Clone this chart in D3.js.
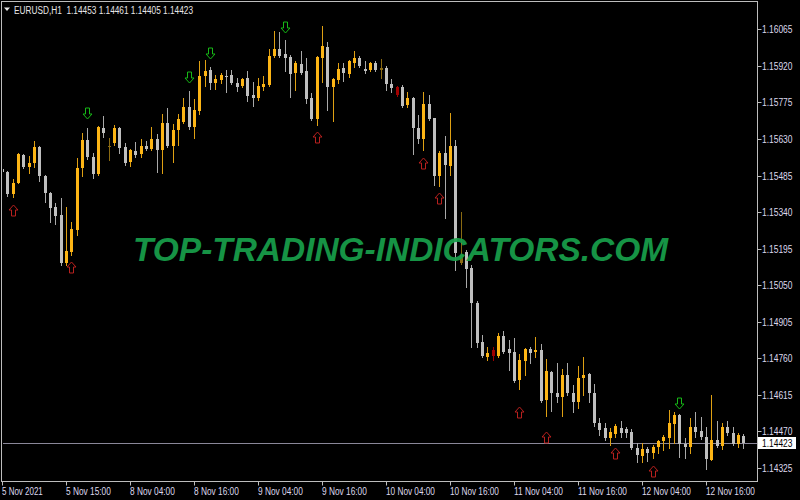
<!DOCTYPE html>
<html>
<head>
<meta charset="utf-8">
<script src="https://cdn.jsdelivr.net/npm/d3@7/dist/d3.min.js"></script>
<style>
  html, body { margin: 0; padding: 0; background: #000; }
  svg { display: block; }
  text { font-family: "Liberation Sans", "DejaVu Sans", sans-serif; }
</style>
</head>
<body>
<script>
// EURUSD H1, 5 Nov 03:00 .. 12 Nov 23:00 (bar index 0..139)
const symbol = 'EURUSD,H1';

const opens = [
  1.15511, 1.15499, 1.15412, 1.15457, 1.15566, 1.15519, 1.15536, 1.15599, 1.15483, 1.15417,
  1.15361, 1.15328, 1.15137, 1.15181, 1.15269, 1.15514, 1.15626, 1.15560, 1.15491, 1.15672,
  1.15597, 1.15613, 1.15672, 1.15597, 1.15540, 1.15583, 1.15570, 1.15602, 1.15589, 1.15629,
  1.15586, 1.15692, 1.15602, 1.15666, 1.15699, 1.15756, 1.15679, 1.15742, 1.15880, 1.15904,
  1.15851, 1.15864, 1.15881, 1.15884, 1.15853, 1.15840, 1.15871, 1.15804, 1.15791, 1.15837,
  1.15844, 1.15960, 1.15986, 1.15967, 1.15956, 1.15890, 1.15926, 1.15900, 1.15794, 1.15709,
  1.15950, 1.15996, 1.15835, 1.15864, 1.15910, 1.15888, 1.15933, 1.15952, 1.15907, 1.15904,
  1.15933, 1.15904, 1.15910, 1.15848, 1.15836, 1.15835, 1.15765, 1.15791, 1.15672, 1.15629,
  1.15768, 1.15712, 1.15483, 1.15576, 1.15523, 1.15602, 1.15138, 1.15183, 1.15117, 1.14978,
  1.14826, 1.14767, 1.14793, 1.14769, 1.14849, 1.14796, 1.14787, 1.14674, 1.14749, 1.14796,
  1.14787, 1.14793, 1.14595, 1.14707, 1.14621, 1.14608, 1.14694, 1.14621, 1.14588, 1.14681,
  1.14698, 1.14624, 1.14505, 1.14483, 1.14443, 1.14460, 1.14485, 1.14480, 1.14469, 1.14403,
  1.14374, 1.14399, 1.14386, 1.14407, 1.14432, 1.14443, 1.14500, 1.14535, 1.14420, 1.14410,
  1.14489, 1.14472, 1.14449, 1.14357, 1.14436, 1.14414, 1.14487, 1.14463, 1.14419, 1.14453
];
const highs = [
  1.15527, 1.15503, 1.15471, 1.15574, 1.15570, 1.15562, 1.15623, 1.15602, 1.15487, 1.15420,
  1.15377, 1.15395, 1.15359, 1.15302, 1.15553, 1.15655, 1.15672, 1.15573, 1.15681, 1.15721,
  1.15633, 1.15685, 1.15678, 1.15615, 1.15590, 1.15617, 1.15629, 1.15623, 1.15679, 1.15650,
  1.15729, 1.15752, 1.15689, 1.15729, 1.15791, 1.15821, 1.15787, 1.15940, 1.15943, 1.15914,
  1.15884, 1.15890, 1.15904, 1.15904, 1.15871, 1.15871, 1.15901, 1.15857, 1.15871, 1.15880,
  1.15986, 1.16058, 1.16054, 1.16023, 1.15963, 1.15940, 1.15979, 1.15950, 1.15811, 1.15959,
  1.16079, 1.16013, 1.15871, 1.15930, 1.15930, 1.15943, 1.15979, 1.15960, 1.15940, 1.15937,
  1.15940, 1.15946, 1.15919, 1.15867, 1.15840, 1.15844, 1.15817, 1.15795, 1.15725, 1.15817,
  1.15804, 1.15713, 1.15583, 1.15642, 1.15734, 1.15626, 1.15342, 1.15190, 1.15130, 1.14987,
  1.14853, 1.14804, 1.14806, 1.14862, 1.14868, 1.14833, 1.14842, 1.14777, 1.14800, 1.14804,
  1.14843, 1.14816, 1.14756, 1.14711, 1.14740, 1.14718, 1.14743, 1.14654, 1.14731, 1.14767,
  1.14703, 1.14658, 1.14522, 1.14505, 1.14483, 1.14500, 1.14513, 1.14489, 1.14479, 1.14423,
  1.14423, 1.14409, 1.14416, 1.14436, 1.14456, 1.14555, 1.14548, 1.14539, 1.14443, 1.14522,
  1.14548, 1.14529, 1.14487, 1.14615, 1.14513, 1.14502, 1.14513, 1.14489, 1.14463, 1.14461
];
const lows = [
  1.15483, 1.15404, 1.15400, 1.15454, 1.15515, 1.15495, 1.15520, 1.15464, 1.15381, 1.15302,
  1.15293, 1.15130, 1.15130, 1.15170, 1.15249, 1.15483, 1.15549, 1.15474, 1.15487, 1.15639,
  1.15547, 1.15606, 1.15573, 1.15527, 1.15523, 1.15560, 1.15557, 1.15586, 1.15586, 1.15500,
  1.15494, 1.15599, 1.15540, 1.15606, 1.15695, 1.15668, 1.15633, 1.15729, 1.15840, 1.15827,
  1.15827, 1.15853, 1.15817, 1.15848, 1.15821, 1.15837, 1.15782, 1.15761, 1.15785, 1.15824,
  1.15840, 1.15956, 1.15955, 1.15900, 1.15795, 1.15824, 1.15888, 1.15774, 1.15705, 1.15685,
  1.15857, 1.15745, 1.15702, 1.15853, 1.15861, 1.15877, 1.15914, 1.15917, 1.15893, 1.15900,
  1.15900, 1.15871, 1.15824, 1.15817, 1.15802, 1.15758, 1.15758, 1.15570, 1.15613, 1.15586,
  1.15705, 1.15448, 1.15443, 1.15315, 1.15487, 1.15110, 1.15134, 1.15044, 1.14806, 1.14805,
  1.14767, 1.14753, 1.14753, 1.14764, 1.14783, 1.14714, 1.14667, 1.14637, 1.14694, 1.14743,
  1.14764, 1.14588, 1.14532, 1.14552, 1.14588, 1.14532, 1.14615, 1.14548, 1.14562, 1.14615,
  1.14588, 1.14492, 1.14456, 1.14436, 1.14416, 1.14447, 1.14449, 1.14449, 1.14401, 1.14350,
  1.14350, 1.14354, 1.14363, 1.14383, 1.14397, 1.14403, 1.14426, 1.14367, 1.14363, 1.14386,
  1.14447, 1.14439, 1.14320, 1.14357, 1.14410, 1.14399, 1.14456, 1.14416, 1.14410, 1.14405
];
const closes = [
  1.15499, 1.15412, 1.15455, 1.15570, 1.15520, 1.15535, 1.15597, 1.15483, 1.15417, 1.15357,
  1.15326, 1.15137, 1.15186, 1.15273, 1.15514, 1.15626, 1.15560, 1.15491, 1.15676, 1.15653,
  1.15602, 1.15672, 1.15593, 1.15536, 1.15586, 1.15566, 1.15602, 1.15589, 1.15629, 1.15586,
  1.15695, 1.15602, 1.15666, 1.15708, 1.15756, 1.15676, 1.15745, 1.15881, 1.15901, 1.15851,
  1.15868, 1.15884, 1.15878, 1.15853, 1.15835, 1.15868, 1.15800, 1.15791, 1.15840, 1.15848,
  1.15960, 1.15986, 1.15960, 1.15952, 1.15888, 1.15930, 1.15893, 1.15787, 1.15709, 1.15956,
  1.15999, 1.15837, 1.15867, 1.15906, 1.15890, 1.15939, 1.15952, 1.15919, 1.15900, 1.15933,
  1.15904, 1.15910, 1.15848, 1.15831, 1.15804, 1.15762, 1.15791, 1.15672, 1.15629, 1.15768,
  1.15708, 1.15483, 1.15576, 1.15527, 1.15602, 1.15179, 1.15170, 1.15113, 1.14978, 1.14820,
  1.14769, 1.14780, 1.14769, 1.14849, 1.14787, 1.14780, 1.14671, 1.14753, 1.14796, 1.14783,
  1.14793, 1.14591, 1.14711, 1.14621, 1.14605, 1.14694, 1.14621, 1.14588, 1.14683, 1.14694,
  1.14621, 1.14502, 1.14476, 1.14443, 1.14467, 1.14493, 1.14465, 1.14463, 1.14403, 1.14377,
  1.14399, 1.14386, 1.14410, 1.14432, 1.14449, 1.14502, 1.14535, 1.14420, 1.14407, 1.14489,
  1.14467, 1.14447, 1.14360, 1.14436, 1.14414, 1.14487, 1.14463, 1.14420, 1.14456, 1.14423
];

// bars drawn in the indicator's weak / dark-red state
const weakBars = [20, 71, 86];
const redBars = [74, 92];

// arrow signals: bar index and the price level of the arrow
const sellBars = [16, 35, 39, 53, 127];
const sellLevels = [1.15734, 1.15877, 1.15970, 1.16073, 1.14582];
const buyBars = [2, 13, 59, 79, 82, 97, 102, 115, 122];
const buyLevels = [1.15348, 1.15124, 1.15639, 1.15534, 1.15395, 1.14546, 1.14449, 1.14383, 1.14314];

// axes
const timeTickBars = [0, 12, 24, 36, 48, 60, 72, 84, 96, 108, 120, 132];
const timeLabels = ['5 Nov 2021', '5 Nov 15:00', '8 Nov 04:00', '8 Nov 16:00', '9 Nov 04:00', '9 Nov 16:00',
  '10 Nov 04:00', '10 Nov 16:00', '11 Nov 04:00', '11 Nov 16:00', '12 Nov 04:00', '12 Nov 16:00'];
const priceTicks = [1.16065, 1.15920, 1.15775, 1.15630, 1.15485, 1.15340, 1.15195,
  1.15050, 1.14905, 1.14760, 1.14615, 1.14470, 1.14325];

const watermark = 'TOP-TRADING-INDICATORS.COM';

// ---- layout ----
const W = 800, H = 500;
const plot = {left: 2, right: 757, top: 2, bottom: 481};
const barStep = 16 / 3;

const colors = {
  bull: '#fdb515', bear: '#bfbfbf',
  weakBull: '#8a6a12', weakBear: '#5c5c5c', red: '#a00000',
  frame: '#bdbdbd', text: '#dcd8ec', priceLine: '#8a8799',
  buy: '#b8201e', sell: '#16b816', mark: '#18a04b'
};

const svg = d3.select('body').append('svg')
  .attr('width', W).attr('height', H)
  .style('background', '#000');

const x = d3.scaleLinear()
  .domain([0, opens.length - 1])
  .range([plot.left, plot.left + (opens.length - 1) * barStep]);
const y = d3.scaleLinear()
  .domain([priceTicks[priceTicks.length - 1], priceTicks[0]])
  .range([468, 29.3]);

const px = i => Math.round(x(i));

svg.append('clipPath').attr('id', 'plotclip').append('rect')
  .attr('x', plot.left + 1).attr('y', plot.top + 1)
  .attr('width', plot.right - plot.left - 1).attr('height', plot.bottom - plot.top - 1);

const bars = opens.map((o, i) => ({i, o, h: highs[i], l: lows[i], c: closes[i]}));
const bodyColor = d => {
  const up = d.c >= d.o;
  if (redBars.includes(d.i)) return colors.red;
  if (weakBars.includes(d.i)) return up ? colors.weakBull : colors.weakBear;
  return up ? colors.bull : colors.bear;
};
const wickColor = d => {
  if (redBars.includes(d.i) || weakBars.includes(d.i)) return bodyColor(d);
  return d3.color(bodyColor(d)).darker(0.35).formatHex();
};

// price line (current bid)
const last = bars[bars.length - 1];
const yLast = Math.round(y(last.c)) + 0.5;

const plotG = svg.append('g').attr('clip-path', 'url(#plotclip)');

plotG.append('line')
  .attr('x1', plot.left).attr('x2', plot.right)
  .attr('y1', yLast).attr('y2', yLast)
  .attr('stroke', colors.priceLine).attr('stroke-width', 1);

const candles = plotG.selectAll('g.candle').data(bars).join('g').attr('class', 'candle');

candles.append('line')
  .attr('x1', d => px(d.i) + 0.5).attr('x2', d => px(d.i) + 0.5)
  .attr('y1', d => Math.round(y(d.h))).attr('y2', d => Math.round(y(d.l)) + 1)
  .attr('stroke', wickColor).attr('stroke-width', 1);

candles.append('rect')
  .attr('x', d => px(d.i) - 1)
  .attr('width', 3)
  .attr('y', d => Math.round(y(Math.max(d.o, d.c))))
  .attr('height', d => Math.max(1, Math.round(y(Math.min(d.o, d.c))) - Math.round(y(Math.max(d.o, d.c)))))
  .attr('fill', bodyColor);

// arrows (outlined, Wingdings-like)
const downArrow = 'M-2,-5.5H2V0.5H4.5L0,5.5L-4.5,0.5H-2Z';
const upArrow = 'M-2,5.5H2V-0.5H4.5L0,-5.5L-4.5,-0.5H-2Z';

plotG.selectAll('path.sell').data(sellBars).join('path')
  .attr('class', 'sell')
  .attr('d', downArrow)
  .attr('transform', (b, k) => `translate(${px(b) + 0.5},${Math.round(y(sellLevels[k])) + 0.5})`)
  .attr('fill', 'none').attr('stroke', colors.sell).attr('stroke-width', 1);

plotG.selectAll('path.buy').data(buyBars).join('path')
  .attr('class', 'buy')
  .attr('d', upArrow)
  .attr('transform', (b, k) => `translate(${px(b) + 0.5},${Math.round(y(buyLevels[k])) + 0.5})`)
  .attr('fill', 'none').attr('stroke', colors.buy).attr('stroke-width', 1);

// watermark
svg.append('text')
  .attr('x', 400.5).attr('y', 261)
  .attr('text-anchor', 'middle')
  .attr('textLength', 535).attr('lengthAdjust', 'spacingAndGlyphs')
  .style('font-size', '33px').style('font-weight', 'bold').style('font-style', 'italic')
  .attr('fill', colors.mark).attr('opacity', 0.92)
  .text(watermark);

// frame
svg.append('rect')
  .attr('x', plot.left - 0.5).attr('y', plot.top - 0.5)
  .attr('width', plot.right - plot.left + 1).attr('height', plot.bottom - plot.top + 1)
  .attr('fill', 'none').attr('stroke', colors.frame).attr('stroke-width', 1);

// bottom time axis
const xAxis = svg.append('g')
  .attr('transform', `translate(0.5,${plot.bottom + 0.5})`)
  .call(d3.axisBottom(x).tickValues(timeTickBars)
    .tickFormat((d, k) => timeLabels[k]).tickSize(4).tickSizeOuter(0));
xAxis.select('.domain').remove();
xAxis.selectAll('.tick').attr('transform', d => `translate(${px(d)},0)`);
xAxis.selectAll('.tick line').attr('stroke', colors.frame);
xAxis.selectAll('.tick text')
  .attr('text-anchor', 'start').attr('x', -0.5).attr('y', 13).attr('dy', 0)
  .attr('fill', colors.text).style('font-size', '10px')
  .attr('textLength', function() { return this.textContent.length * 4.08; })
  .attr('lengthAdjust', 'spacingAndGlyphs');

// right price axis
const yAxis = svg.append('g')
  .attr('transform', `translate(${plot.right + 0.5},0.5)`)
  .call(d3.axisRight(y).tickValues(priceTicks).tickFormat(d3.format('.5f')).tickSize(4).tickSizeOuter(0));
yAxis.select('.domain').remove();
yAxis.selectAll('.tick').attr('transform', d => `translate(0,${Math.round(y(d))})`);
yAxis.selectAll('.tick line').attr('stroke', colors.frame);
yAxis.selectAll('.tick text')
  .attr('x', 4.5).attr('dy', '0.36em')
  .attr('fill', colors.text).style('font-size', '10px')
  .attr('textLength', 30.5).attr('lengthAdjust', 'spacingAndGlyphs');

// current price label
const fmt = d3.format('.5f');
const lab = svg.append('g').attr('transform', `translate(${plot.right + 1},${yLast - 0.5})`);
lab.append('rect').attr('x', 0).attr('y', -6).attr('width', 38).attr('height', 12).attr('fill', '#ffffff');
lab.append('text').attr('x', 4).attr('y', 0).attr('dy', '0.36em')
  .attr('fill', '#000').style('font-size', '10px')
  .attr('textLength', 30.5).attr('lengthAdjust', 'spacingAndGlyphs')
  .text(fmt(last.c));

// header: symbol and last bar OHLC
const head = svg.append('g');
head.append('path').attr('d', 'M4,7.5H10L7,11Z').attr('fill', '#e6e6e6');
head.append('text').attr('x', 14).attr('y', 13.5)
  .attr('fill', '#e6e6e6').style('font-size', '10px').style('white-space', 'pre')
  .attr('textLength', 179).attr('lengthAdjust', 'spacingAndGlyphs')
  .text(symbol + '  ' + [last.o, last.h, last.l, last.c].map(fmt).join(' '));
</script>
</body>
</html>
